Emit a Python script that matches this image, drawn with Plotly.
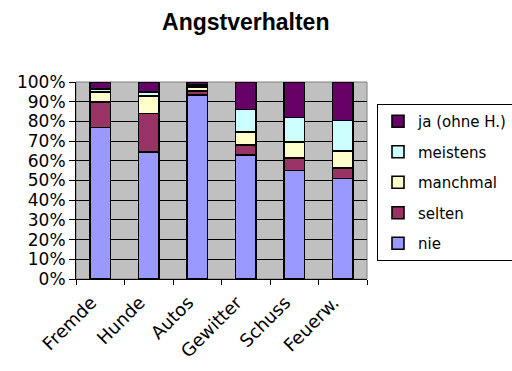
import plotly.graph_objects as go

categories = ["Fremde", "Hunde", "Autos", "Gewitter", "Schuss", "Feuerw."]
nie = [77, 64.5, 93.5, 63, 55, 51]
selten = [13, 19.5, 2, 5, 6.5, 5.5]
manchmal = [5, 9, 2, 6.5, 8, 8.5]
meistens = [1.5, 2, 1, 11.5, 12.5, 15.5]
ja = [3.5, 5, 1.5, 14, 18, 19.5]

series = [
    ("nie", nie, "#9999FF"),
    ("selten", selten, "#993366"),
    ("manchmal", manchmal, "#FFFFCC"),
    ("meistens", meistens, "#CCFFFF"),
    ("ja (ohne H.)", ja, "#660066"),
]
y_ticks = list(range(0, 101, 10))
y_ticklabels = [f"{v}%" for v in y_ticks]

fig = go.Figure()
n = len(series)
for i, (name, vals, col) in enumerate(series):
    fig.add_trace(go.Bar(
        x=categories, y=vals, name=name, legendgroup=name,
        legendrank=n - i,
        marker=dict(color=col, line=dict(color="#000000", width=1.6)),
    ))

L, R, T, B = 76, 145, 82, 92
W, H = 512, 371
fig.update_layout(
    width=W, height=H,
    barmode="stack", bargap=0.57,
    margin=dict(l=L, r=R, t=T, b=B, autoexpand=False),
    paper_bgcolor="white", plot_bgcolor="#C0C0C0",
    font=dict(family="DejaVu Sans", size=16, color="black"),
    title=dict(text="<b>Angstverhalten</b>", x=0.48, xanchor="center",
               y=1 - 22 / H, yanchor="middle",
               font=dict(family="Liberation Sans", size=23, color="black")),
    legend=dict(x=(377 - L) / (W - L - R), xanchor="left",
                y=(H - B - 104) / (H - T - B), yanchor="top",
                traceorder="grouped", tracegroupgap=8,
                bordercolor="black", borderwidth=1, bgcolor="white",
                font=dict(family="DejaVu Sans", size=15)),
    xaxis=dict(showline=True, linecolor="black", linewidth=1,
               ticks="outside", ticklen=5, tickcolor="black",
               tickson="boundaries", tickangle=-45, automargin=False,
               ticklabelshift=-9, ticklabelstandoff=5,
               tickfont=dict(size=18), showgrid=False),
    yaxis=dict(range=[0, 100], tickvals=y_ticks, ticktext=y_ticklabels,
               showline=True, linecolor="black", linewidth=1,
               ticks="outside", ticklen=6, tickcolor="black", automargin=False,
               showgrid=True, gridcolor="black", gridwidth=1,
               tickfont=dict(size=17), zeroline=False),
    shapes=[dict(type="rect", xref="paper", yref="paper", x0=0, x1=1, y0=0, y1=1,
                 line=dict(color="#808080", width=1), layer="below")],
)

fig.write_html("out.html", config={"displayModeBar": False},
               post_script="document.body.style.margin='0';")
